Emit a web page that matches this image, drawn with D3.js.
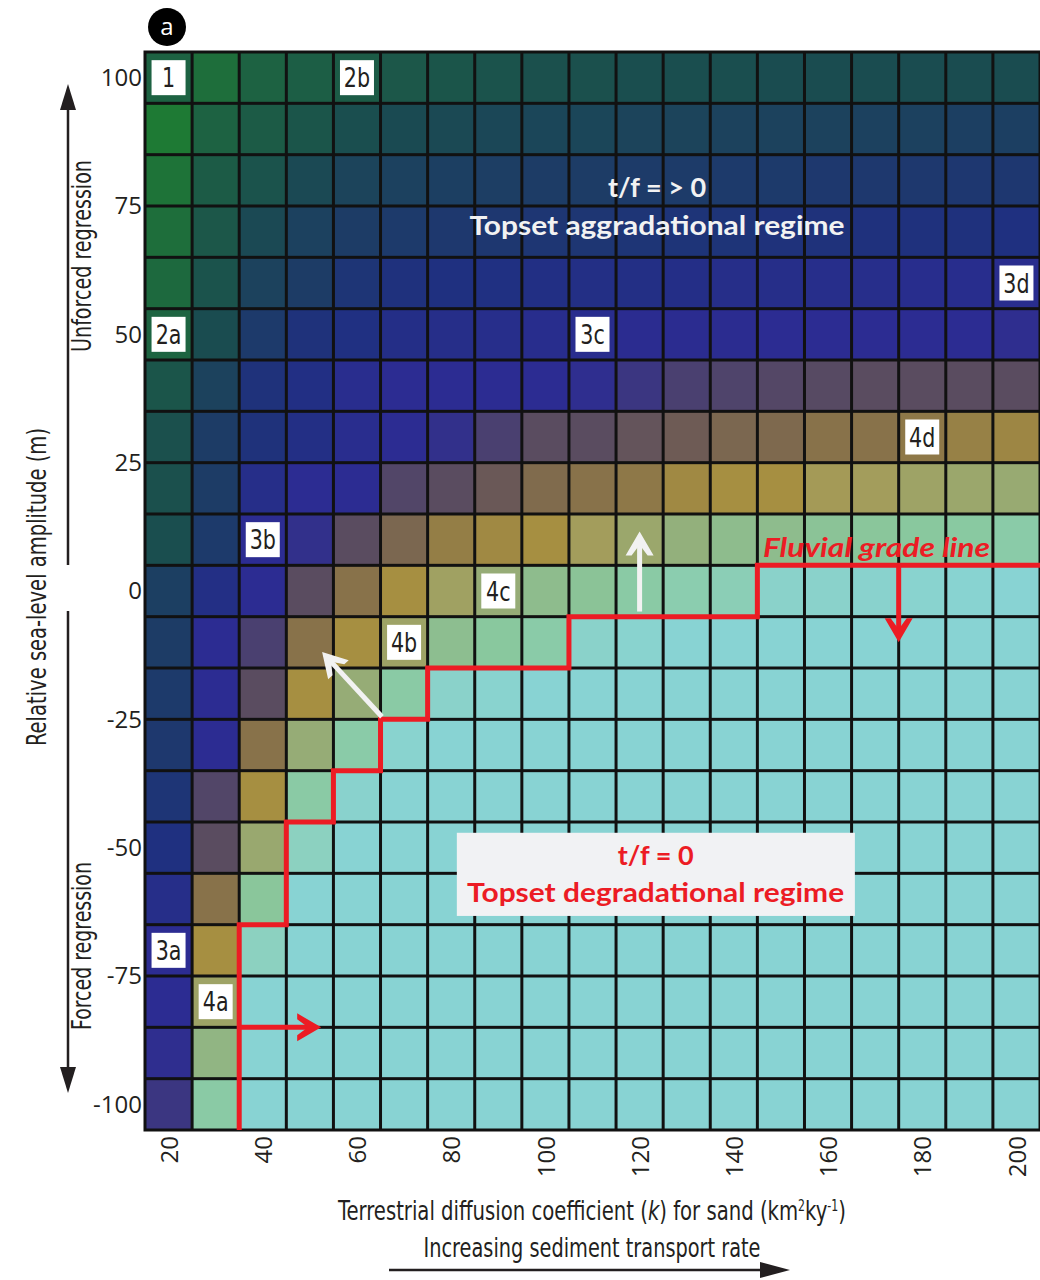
<!DOCTYPE html>
<html>
<head>
<meta charset="utf-8">
<script src="https://cdn.jsdelivr.net/npm/d3@7"></script>
<style>
  body { margin: 0; background: #fff; }
  svg { display: block; }
</style>
</head>
<body>
<div id="chart"></div>
<script>
// terrestrial diffusion coefficient k (columns) and relative sea-level amplitude (rows)
const kValues = [20, 30, 40, 50, 60, 70, 80, 90, 100, 110, 120, 130, 140, 150, 160, 170, 180, 190, 200];
const seaLevels = [100, 90, 80, 70, 60, 50, 40, 30, 20, 10, 0, -10, -20, -30, -40, -50, -60, -70, -80, -90, -100];
const xTicks = [20, 40, 60, 80, 100, 120, 140, 160, 180, 200];
const yTicks = [100, 75, 50, 25, 0, -25, -50, -75, -100];

// colour ramp: 0 green ... 5 blue ... 7 mauve ... 10 gold ... 13 light green ... 15 cyan
const rampColors = ["#1e7a34", "#1d6242", "#1a4c50", "#1d3c66", "#1f3080", "#2c2c92", "#4a4070", "#5a4c60",
                    "#6e5b55", "#88724a", "#a68f41", "#a39d5c", "#93b07c", "#89c89e", "#8cd1c0", "#88d3d3"];

// regime index per cell, one row per sea level (top row = 100 m)
const cellIndex = [
  [1.0, 0.5, 1.0, 1.2, 1.3, 1.5, 1.6, 1.7, 1.8, 1.8, 1.9, 1.9, 1.9, 2.0, 2.0, 2.0, 2.0, 2.0, 2.0],
  [0.0, 1.0, 1.3, 1.6, 1.9, 2.1, 2.2, 2.3, 2.4, 2.4, 2.5, 2.5, 2.6, 2.6, 2.6, 2.7, 2.7, 2.8, 2.8],
  [0.3, 1.3, 1.7, 2.2, 2.5, 2.7, 2.8, 2.9, 3.0, 3.0, 3.1, 3.1, 3.2, 3.2, 3.3, 3.3, 3.3, 3.4, 3.4],
  [0.5, 1.5, 2.2, 2.7, 3.0, 3.2, 3.3, 3.4, 3.5, 3.5, 3.6, 3.7, 3.7, 3.8, 3.8, 3.9, 3.9, 3.9, 4.0],
  [0.7, 1.7, 2.6, 3.0, 3.6, 3.9, 4.0, 4.1, 4.2, 4.3, 4.3, 4.4, 4.5, 4.5, 4.6, 4.6, 4.7, 4.7, 4.8],
  [0.9, 2.0, 3.2, 3.8, 4.1, 4.4, 4.5, 4.6, 4.7, 4.8, 4.9, 4.9, 4.9, 5.0, 5.0, 5.0, 5.0, 5.0, 5.1],
  [1.6, 2.6, 3.8, 4.2, 4.8, 5.0, 5.0, 5.0, 5.0, 5.1, 5.5, 6.0, 6.3, 6.6, 6.8, 7.0, 7.0, 7.0, 7.0],
  [1.8, 3.0, 3.8, 4.3, 4.8, 5.0, 5.2, 6.0, 7.0, 7.0, 7.5, 8.0, 8.5, 8.6, 9.0, 9.0, 9.2, 9.5, 9.7],
  [1.8, 3.0, 4.5, 5.0, 5.0, 6.5, 7.0, 7.8, 8.7, 9.0, 9.2, 9.8, 10.0, 10.0, 10.8, 11.0, 11.3, 11.5, 11.7],
  [1.9, 3.2, 5.0, 5.2, 7.0, 8.5, 9.4, 9.8, 10.0, 11.0, 11.5, 12.0, 12.5, 12.5, 12.8, 12.9, 13.0, 13.1, 13.3],
  [2.8, 4.3, 5.0, 7.0, 9.0, 10.0, 11.2, 11.8, 12.5, 12.8, 13.2, 13.5, 13.7, 14.5, 14.6, 14.7, 14.8, 14.9, 15.0],
  [3.0, 5.0, 6.0, 9.0, 10.0, 11.3, 12.6, 13.0, 13.3, 14.5, 14.8, 15.0, 15.0, 15.0, 15.0, 15.0, 15.0, 15.0, 15.0],
  [3.2, 5.0, 7.0, 10.0, 11.8, 13.2, 14.5, 14.8, 15.0, 15.0, 15.0, 15.0, 15.0, 15.0, 15.0, 15.0, 15.0, 15.0, 15.0],
  [3.3, 5.0, 9.0, 11.8, 13.3, 14.8, 15.0, 15.0, 15.0, 15.0, 15.0, 15.0, 15.0, 15.0, 15.0, 15.0, 15.0, 15.0, 15.0],
  [3.6, 6.5, 10.0, 13.2, 14.7, 15.0, 15.0, 15.0, 15.0, 15.0, 15.0, 15.0, 15.0, 15.0, 15.0, 15.0, 15.0, 15.0, 15.0],
  [4.0, 7.0, 11.6, 14.0, 15.0, 15.0, 15.0, 15.0, 15.0, 15.0, 15.0, 15.0, 15.0, 15.0, 15.0, 15.0, 15.0, 15.0, 15.0],
  [4.5, 9.0, 12.9, 15.0, 15.0, 15.0, 15.0, 15.0, 15.0, 15.0, 15.0, 15.0, 15.0, 15.0, 15.0, 15.0, 15.0, 15.0, 15.0],
  [5.0, 10.0, 14.0, 15.0, 15.0, 15.0, 15.0, 15.0, 15.0, 15.0, 15.0, 15.0, 15.0, 15.0, 15.0, 15.0, 15.0, 15.0, 15.0],
  [5.0, 11.3, 15.0, 15.0, 15.0, 15.0, 15.0, 15.0, 15.0, 15.0, 15.0, 15.0, 15.0, 15.0, 15.0, 15.0, 15.0, 15.0, 15.0],
  [5.1, 12.2, 15.0, 15.0, 15.0, 15.0, 15.0, 15.0, 15.0, 15.0, 15.0, 15.0, 15.0, 15.0, 15.0, 15.0, 15.0, 15.0, 15.0],
  [5.5, 13.2, 15.0, 15.0, 15.0, 15.0, 15.0, 15.0, 15.0, 15.0, 15.0, 15.0, 15.0, 15.0, 15.0, 15.0, 15.0, 15.0, 15.0]
];

// fluvial grade line (step line, cell edges)
const gradeK  = [35, 35, 45, 45, 55, 55, 65, 65, 75, 75, 105, 105, 145, 145, 205];
const gradeSL = [-105, -65, -65, -45, -45, -35, -35, -25, -25, -15, -15, -5, -5, 5, 5];

// case labels in white boxes
const labelText = ["1", "2a", "2b", "3a", "3b", "3c", "3d", "4a", "4b", "4c", "4d"];
const labelK    = [20, 20, 60, 20, 40, 110, 200, 30, 70, 90, 180];
const labelSL   = [100, 50, 100, -70, 10, 50, 60, -80, -10, 0, 30];

// set the dimensions of the graph
var W = 1040, H = 1280;
var grid = { left: 145, right: 1040, top: 52, bottom: 1130 };

var svg = d3.select("#chart")
    .append("svg")
    .attr("width", W)
    .attr("height", H);

var x = d3.scaleLinear().domain([15, 205]).range([grid.left, grid.right]);
var y = d3.scaleLinear().domain([105, -105]).range([grid.top, grid.bottom]);
var color = d3.scaleLinear().domain(d3.range(rampColors.length)).range(rampColors).interpolate(d3.interpolateRgb);

var condensed = "'Liberation Sans Narrow','DejaVu Sans Condensed','Roboto Condensed',sans-serif";
var ink = "#231f20";
var red = "#ec1c24";

// cells
var cells = [];
seaLevels.forEach(function (sl, i) {
    kValues.forEach(function (k, j) {
        cells.push({ k: k, sl: sl, v: cellIndex[i][j] });
    });
});

svg.append("rect")
    .attr("x", grid.left - 1.5).attr("y", grid.top - 1.5)
    .attr("width", grid.right - grid.left + 3).attr("height", grid.bottom - grid.top + 3)
    .style("fill", "#111");

svg.selectAll("cells")
    .data(cells)
    .enter()
    .append("rect")
    .attr("x", function (d) { return x(d.k - 5) + 1.5 })
    .attr("y", function (d) { return y(d.sl + 5) + 1.5 })
    .attr("width", function (d) { return x(d.k + 5) - x(d.k - 5) - 3 })
    .attr("height", function (d) { return y(d.sl - 5) - y(d.sl + 5) - 3 })
    .style("fill", function (d) { return color(d.v) });

// axes (plain hyphen for negatives, as in the original)
var yAxis = svg.append("g")
    .attr("transform", "translate(" + grid.left + ",0)")
    .call(d3.axisLeft(y).tickValues(yTicks).tickSize(0).tickPadding(3).tickFormat(function (d) { return String(d) }));
yAxis.select(".domain").remove();
yAxis.selectAll("text")
    .style("font-family", "'Open Sans',sans-serif")
    .style("font-size", "24px")
    .style("fill", ink);

var xAxis = svg.append("g")
    .attr("transform", "translate(0," + grid.bottom + ")")
    .call(d3.axisBottom(x).tickValues(xTicks).tickSize(0));
xAxis.select(".domain").remove();
xAxis.selectAll("text")
    .attr("transform", "rotate(-90)")
    .attr("x", -6)
    .attr("y", 0)
    .attr("dy", "0.36em")
    .attr("text-anchor", "end")
    .style("font-family", "'Open Sans',sans-serif")
    .style("font-size", "24px")
    .style("fill", ink);

// arrow helper (pixel coordinates)
function arrow(x1, y1, x2, y2, col, w, hl, hw, notch) {
    var a = Math.atan2(y2 - y1, x2 - x1);
    var len = Math.hypot(x2 - x1, y2 - y1);
    var g = svg.append("g")
        .attr("transform", "translate(" + x1 + "," + y1 + ") rotate(" + (a * 180 / Math.PI) + ")");
    g.append("line")
        .attr("x1", 0).attr("y1", 0)
        .attr("x2", len - hl * (notch ? 0.5 : 0.9)).attr("y2", 0)
        .attr("stroke", col).attr("stroke-width", w);
    var pts = notch
        ? [[len, 0], [len - hl, -hw], [len - hl, -hw + 6], [len - hl * 0.55, 0], [len - hl, hw - 6], [len - hl, hw]]
        : [[len, 0], [len - hl, -hw], [len - hl, hw]];
    g.append("polygon")
        .attr("points", pts.map(function (p) { return p.join(",") }).join(" "))
        .style("fill", col);
}

// grade line
svg.append("path")
    .datum(d3.zip(gradeK, gradeSL))
    .attr("d", d3.line().x(function (d) { return x(d[0]) }).y(function (d) { return y(d[1]) }))
    .attr("fill", "none")
    .attr("stroke", red)
    .attr("stroke-width", 5);

// annotation arrows
arrow(x(175), y(5), x(175), y(-10), red, 5, 24, 14, true);
arrow(x(35), y(-85), x(52.4), y(-85), red, 5, 24, 14, true);
arrow(x(120), y(-4), x(120), y(11.6), "#f2f2f2", 5, 24, 14, true);
arrow(x(65.3), y(-24.5), x(52.6), y(-11.9), "#f2f2f2", 5, 24, 14, true);

// case labels
var lab = svg.selectAll("caseLabels")
    .data(labelText)
    .enter()
    .append("g")
    .attr("transform", function (d, i) { return "translate(" + x(labelK[i]) + "," + y(labelSL[i]) + ")" });
lab.append("rect")
    .attr("x", -17).attr("y", -17.5)
    .attr("width", 34).attr("height", 35)
    .style("fill", "#fff");
lab.append("text")
    .attr("text-anchor", "middle")
    .attr("dy", "0.36em")
    .attr("transform", "scale(0.85,1)")
    .style("font-family", condensed)
    .style("font-size", "27px")
    .style("fill", ink)
    .text(function (d) { return d });

// regime texts
svg.append("text")
    .attr("x", x(123.7)).attr("y", y(76.8))
    .attr("text-anchor", "middle")
    .style("font-family", "Lato,'Open Sans',sans-serif")
    .style("font-weight", "bold")
    .style("font-size", "27px")
    .style("fill", "#f2f2f2")
    .text("t/f = > 0");
svg.append("text")
    .attr("x", x(123.7)).attr("y", y(69.4))
    .attr("text-anchor", "middle")
    .attr("textLength", 375).attr("lengthAdjust", "spacingAndGlyphs")
    .style("font-family", "Lato,'Open Sans',sans-serif")
    .style("font-weight", "bold")
    .style("font-size", "27px")
    .style("fill", "#f2f2f2")
    .text("Topset aggradational regime");

svg.append("rect")
    .attr("x", x(81.2)).attr("y", y(-47.1))
    .attr("width", x(165.7) - x(81.2)).attr("height", y(-63.3) - y(-47.1))
    .style("fill", "#f1f2f4");
svg.append("text")
    .attr("x", x(123.4)).attr("y", y(-53.3))
    .attr("text-anchor", "middle")
    .style("font-family", "Lato,'Open Sans',sans-serif")
    .style("font-weight", "bold")
    .style("font-size", "27px")
    .style("fill", red)
    .text("t/f = 0");
svg.append("text")
    .attr("x", x(123.4)).attr("y", y(-60.6))
    .attr("text-anchor", "middle")
    .attr("textLength", 377).attr("lengthAdjust", "spacingAndGlyphs")
    .style("font-family", "Lato,'Open Sans',sans-serif")
    .style("font-weight", "bold")
    .style("font-size", "27px")
    .style("fill", red)
    .text("Topset degradational regime");

svg.append("text")
    .attr("x", x(146.2)).attr("y", y(6.6))
    .attr("textLength", 227).attr("lengthAdjust", "spacingAndGlyphs")
    .style("font-family", "Lato,'Open Sans',sans-serif")
    .style("font-weight", "bold")
    .style("font-style", "italic")
    .style("font-size", "26px")
    .style("fill", red)
    .text("Fluvial grade line");

// left axis titles and arrows
arrow(68, 565, 68, 84, ink, 2.5, 26, 8, false);
arrow(68, 611, 68, 1093, ink, 2.5, 26, 8, false);

function vText(tx, ty, len, str) {
    svg.append("text")
        .attr("transform", "translate(" + tx + "," + ty + ") rotate(-90)")
        .attr("text-anchor", "middle")
        .attr("textLength", len).attr("lengthAdjust", "spacingAndGlyphs")
        .style("font-family", condensed)
        .style("font-size", "27px")
        .style("fill", ink)
        .text(str);
}
vText(46, 587, 318, "Relative sea-level amplitude (m)");
vText(91, 256, 192, "Unforced regression");
vText(91, 946, 168, "Forced regression");

// bottom axis titles (squeezed horizontally to mimic the condensed face)
var bt = svg.append("text")
    .attr("transform", "translate(592,1220) scale(0.81,1)")
    .attr("text-anchor", "middle")
    .style("font-family", condensed)
    .style("font-size", "27px")
    .style("fill", ink);
bt.append("tspan").text("Terrestrial diffusion coefficient (");
bt.append("tspan").style("font-style", "italic").text("k");
bt.append("tspan").text(") for sand (km");
bt.append("tspan").attr("baseline-shift", "super").style("font-size", "15px").text("2");
bt.append("tspan").text("ky");
bt.append("tspan").attr("baseline-shift", "super").style("font-size", "15px").text("-1");
bt.append("tspan").text(")");

svg.append("text")
    .attr("x", 592).attr("y", 1257)
    .attr("text-anchor", "middle")
    .attr("textLength", 337).attr("lengthAdjust", "spacingAndGlyphs")
    .style("font-family", condensed)
    .style("font-size", "27px")
    .style("fill", ink)
    .text("Increasing sediment transport rate");
arrow(389, 1270, 790, 1270, ink, 2.5, 30, 8, false);

// panel letter
svg.append("circle").attr("cx", 167).attr("cy", 27).attr("r", 19).style("fill", "#000");
svg.append("text")
    .attr("x", 167).attr("y", 27).attr("dy", "0.33em")
    .attr("text-anchor", "middle")
    .style("font-family", "'Open Sans',sans-serif")
    .style("font-size", "24px")
    .style("fill", "#fff")
    .text("a");
</script>
</body>
</html>
